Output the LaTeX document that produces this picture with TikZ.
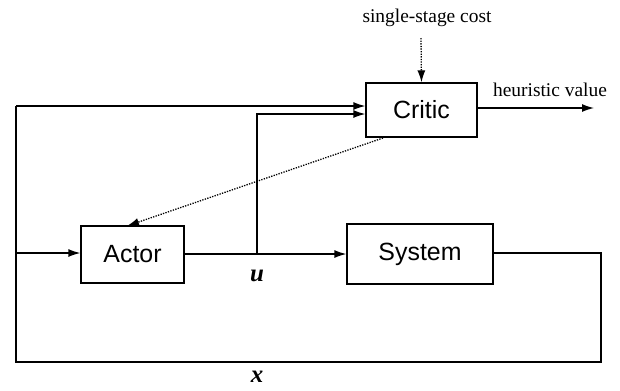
\documentclass[tikz,border=0pt]{standalone}
\usepackage{fontspec}
\setmainfont{Liberation Serif}
\setsansfont{Liberation Sans}
\usetikzlibrary{arrows.meta,calc}
\begin{document}
\begin{tikzpicture}[x=1bp,y=-1bp,
  blk/.style={draw,line width=1.3bp,inner sep=0pt,font=\sffamily\fontsize{25}{28}\selectfont},
  lbl/.style={font=\fontsize{19.5}{22}\selectfont,inner sep=0pt},
  var/.style={font=\bfseries\itshape\fontsize{25}{27}\selectfont,inner sep=0pt},
  ln/.style={line width=1.3bp},
  arr/.style={ln,-{Latex[length=12bp,width=8bp]}},
  dotarr/.style={line width=1.3bp,dash pattern=on 1.3bp off 1.3bp,-{Latex[length=12bp,width=8bp]}}]
\useasboundingbox (0,0) rectangle (620,390);
\node[blk,minimum width=111bp,minimum height=54bp] (critic) at (421.5,110) {Critic};
\node[blk,minimum width=103bp,minimum height=57bp] (actor) at (132.5,254.5) {Actor};
\node[blk,minimum width=146bp,minimum height=60bp] (system) at (420,254) {System};
\node[lbl] (cost) at (427,18) {single-stage cost};
\node[lbl] (heur) at (550,90) {heuristic value};
\node[var] (u) at (257,276) {u};
\node[var] (x) at (257,377) {x};
\coordinate (costtop) at (421,38);
\coordinate (heurend) at (594,108);
\coordinate (critE) at (critic.east |- heurend);
\coordinate (br) at (257,254);
\coordinate (brtop) at (257,114);
\coordinate (critW2) at (critic.west |- brtop);
\coordinate (tl) at (16,106);
\coordinate (critW1) at (critic.west |- tl);
\coordinate (rt) at (601,253);
\coordinate (rb) at (601,362);
\coordinate (lb) at (16,362);
\coordinate (lin) at (16,253);
\coordinate (actW) at (actor.west |- lin);
\coordinate (dfrom) at (383,138);
\coordinate (dto) at (127,226);
\draw[dotarr] (costtop) -- (critic.north);
\draw[arr] (critE) -- (heurend);
\draw[ln] (system.east |- rt) -- (rt) -- (rb) -- (lb) -- (tl);
\draw[arr] (tl) -- (critW1);
\draw[arr] (lin) -- (actW);
\draw[arr] (actor.east |- br) -- (system.west |- br);
\draw[arr] (br) -- (brtop) -- (critW2);
\draw[dotarr] (dfrom) -- (dto);
\end{tikzpicture}
\end{document}
